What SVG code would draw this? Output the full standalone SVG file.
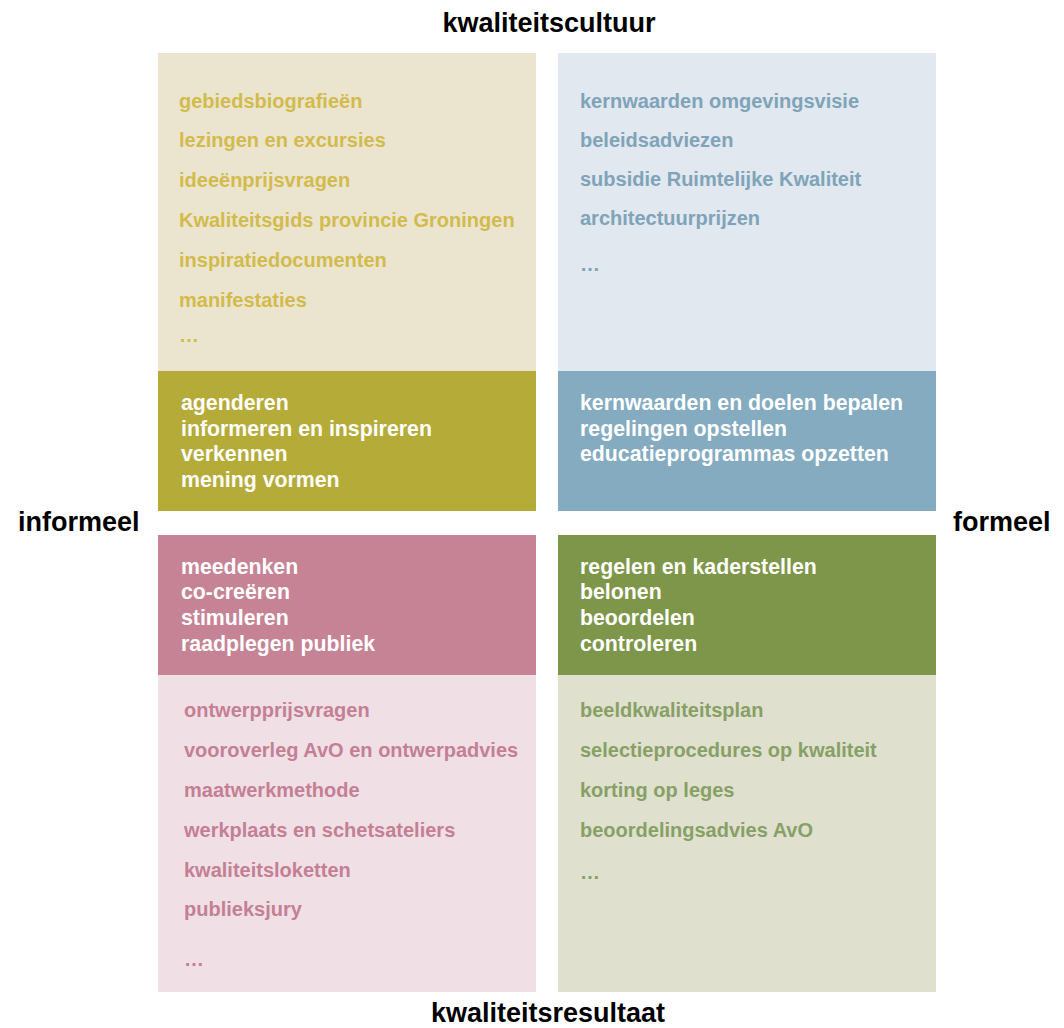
<svg xmlns="http://www.w3.org/2000/svg" width="1064" height="1028" viewBox="0 0 1064 1028">
<style>
text{font-family:"Liberation Sans",Arial,Helvetica,sans-serif;font-weight:bold}
.axis{font-size:27px;fill:#000}
.item{font-size:20px}
.act{font-size:21.3px;fill:#fff}
.t1{fill:#d2bb4c}.t2{fill:#7fa3b8}.t3{fill:#c47f95}.t4{fill:#87a065}
</style>
<rect width="1064" height="1028" fill="#fff"/>
<g id="axes">
<text class="axis" x="549" y="32" text-anchor="middle">kwaliteitscultuur</text>
<text class="axis" x="548" y="1022" text-anchor="middle">kwaliteitsresultaat</text>
<text class="axis" x="18" y="531">informeel</text>
<text class="axis" x="953" y="531">formeel</text>
</g>
<g id="q-informeel-cultuur">
<rect x="158" y="53" width="378" height="318" fill="#ebe5cf"/>
<rect x="158" y="371" width="378" height="140" fill="#b5ab38"/>
<text class="item t1" x="179" y="108">gebiedsbiografieën</text>
<text class="item t1" x="179" y="147">lezingen en excursies</text>
<text class="item t1" x="179" y="187">ideeënprijsvragen</text>
<text class="item t1" x="179" y="227">Kwaliteitsgids provincie Groningen</text>
<text class="item t1" x="179" y="267">inspiratiedocumenten</text>
<text class="item t1" x="179" y="307">manifestaties</text>
<text class="item t1" x="179" y="342">…</text>
<text class="act" x="181" y="410">agenderen</text>
<text class="act" x="181" y="436">informeren en inspireren</text>
<text class="act" x="181" y="461">verkennen</text>
<text class="act" x="181" y="487">mening vormen</text>
</g>
<g id="q-formeel-cultuur">
<rect x="558" y="53" width="378" height="318" fill="#e1e8ef"/>
<rect x="558" y="371" width="378" height="140" fill="#84abc0"/>
<text class="item t2" x="580" y="108">kernwaarden omgevingsvisie</text>
<text class="item t2" x="580" y="147">beleidsadviezen</text>
<text class="item t2" x="580" y="186">subsidie Ruimtelijke Kwaliteit</text>
<text class="item t2" x="580" y="225">architectuurprijzen</text>
<text class="item t2" x="580" y="271">…</text>
<text class="act" x="580" y="410">kernwaarden en doelen bepalen</text>
<text class="act" x="580" y="436">regelingen opstellen</text>
<text class="act" x="580" y="461">educatieprogrammas opzetten</text>
</g>
<g id="q-informeel-resultaat">
<rect x="158" y="535" width="378" height="140" fill="#c78396"/>
<rect x="158" y="675" width="378" height="317" fill="#f0dfe5"/>
<text class="act" x="181" y="574">meedenken</text>
<text class="act" x="181" y="599">co-creëren</text>
<text class="act" x="181" y="625">stimuleren</text>
<text class="act" x="181" y="651">raadplegen publiek</text>
<text class="item t3" x="184" y="717">ontwerpprijsvragen</text>
<text class="item t3" x="184" y="757">vooroverleg AvO en ontwerpadvies</text>
<text class="item t3" x="184" y="797">maatwerkmethode</text>
<text class="item t3" x="184" y="837">werkplaats en schetsateliers</text>
<text class="item t3" x="184" y="877">kwaliteitsloketten</text>
<text class="item t3" x="184" y="916">publieksjury</text>
<text class="item t3" x="184" y="966">…</text>
</g>
<g id="q-formeel-resultaat">
<rect x="558" y="535" width="378" height="140" fill="#7e9649"/>
<rect x="558" y="675" width="378" height="317" fill="#e0e0cf"/>
<text class="act" x="580" y="574">regelen en kaderstellen</text>
<text class="act" x="580" y="599">belonen</text>
<text class="act" x="580" y="625">beoordelen</text>
<text class="act" x="580" y="651">controleren</text>
<text class="item t4" x="580" y="717">beeldkwaliteitsplan</text>
<text class="item t4" x="580" y="757">selectieprocedures op kwaliteit</text>
<text class="item t4" x="580" y="797">korting op leges</text>
<text class="item t4" x="580" y="837">beoordelingsadvies AvO</text>
<text class="item t4" x="580" y="879">…</text>
</g>
</svg>
